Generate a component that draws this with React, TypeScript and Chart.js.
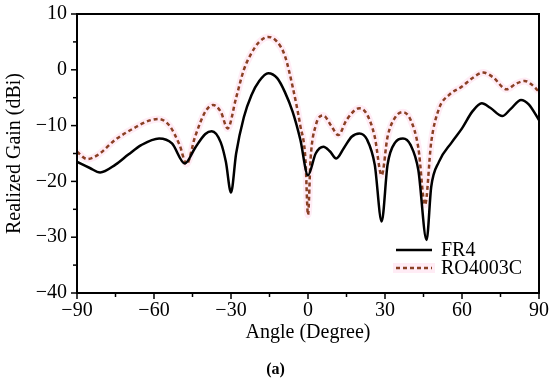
import React, { useEffect, useRef } from "react";
import { Chart, registerables } from "chart.js";

Chart.register(...registerables);

const fr4Angles = [-90, -85, -81, -75, -70, -65, -58, -53, -48, -44, -40, -37.5, -34, -32, -30, -28, -25, -22, -19, -15.5, -12, -9, -6, -3, 0, 3, 6, 8.5, 11, 14, 17, 20, 23, 26, 28.7, 31, 34, 37, 40, 43, 46.2, 48, 51, 56, 60, 64, 67.7, 71, 75.7, 79, 83, 86, 90];
const fr4Gain = [-16.5, -17.6, -18.4, -17, -15.2, -13.5, -12.3, -13.2, -16.8, -14, -11.5, -11, -13, -16.5, -22, -15, -8.5, -4.5, -2, -0.6, -1.5, -4, -7.5, -12.5, -18.9, -15, -13.8, -14.6, -15.9, -14, -12, -11.4, -12.5, -17, -27.2, -17, -13, -12.3, -13.5, -18, -30.5, -21, -16.5, -13, -10.5, -7.5, -6, -6.8, -8.3, -7, -5.4, -6.2, -9];

const roAngles = [-90, -86, -82, -75, -68, -63, -58.3, -54, -50, -47.3, -44, -40, -37, -34, -31.3, -28, -25, -22, -19, -15.5, -12, -9, -6, -3, -1, 0, 1, 3, 6, 9, 11.8, 15, 20, 23, 26, 28.7, 31, 34, 37, 40, 43, 45.6, 48, 51, 55, 60, 64, 68.3, 72, 77.4, 81, 84.5, 87, 90];
const roGain = [-14.7, -16, -15.3, -12.5, -10.5, -9.3, -8.8, -10, -13.5, -16.9, -12, -7.5, -6.3, -7.5, -10.5, -5, 0, 3, 5, 5.9, 5, 2.5, -3, -10, -16, -26, -16, -10, -8.2, -10, -11.7, -9, -6.9, -8, -12, -18.9, -12, -8.5, -7.6, -9, -14, -24.2, -13, -7, -4.5, -3, -1.5, -0.5, -1.3, -3.5, -2.5, -2, -2.6, -3.9];

const xMajorTicks = [-90, -60, -30, 0, 30, 60, 90];
const yMajorTicks = [-40, -30, -20, -10, 0, 10];
const seriesNames = ["FR4", "RO4003C"];
const captionText = "(a)";

const FONT = "'Liberation Serif', 'Times New Roman', serif";
const RO_COLOR = "#8a4024";
const GLOW = "rgba(255, 200, 225, 0.35)";

const fmt = (v: number) => (v < 0 ? "\u2212" + Math.abs(v) : String(v));

export default function App() {
  const ref = useRef<HTMLCanvasElement | null>(null);

  useEffect(() => {
    if (!ref.current) return;
    const fr4 = fr4Angles.map((x, i) => ({ x, y: fr4Gain[i] }));
    const ro = roAngles.map((x, i) => ({ x, y: roGain[i] }));

    const decor = {
      id: "decor",
      afterDatasetsDraw(chart: any) {
        const ctx = chart.ctx;
        const { left, right, top, bottom } = chart.chartArea;
        const xs = chart.scales.x;
        const ys = chart.scales.y;
        ctx.save();
        ctx.strokeStyle = "#000";
        ctx.lineWidth = 2;
        ctx.strokeRect(left, top, right - left, bottom - top);
        ctx.lineWidth = 1.5;
        for (let v = -90; v <= 90; v += 15) {
          const px = xs.getPixelForValue(v);
          const len = xMajorTicks.includes(v) ? 6 : 4;
          ctx.beginPath();
          ctx.moveTo(px, bottom);
          ctx.lineTo(px, bottom + len);
          ctx.stroke();
        }
        for (let v = -40; v <= 10; v += 5) {
          const py = ys.getPixelForValue(v);
          const len = yMajorTicks.includes(v) ? 6 : 4;
          ctx.beginPath();
          ctx.moveTo(left, py);
          ctx.lineTo(left - len, py);
          ctx.stroke();
        }
        const lx0 = right - 143;
        const lx1 = right - 107;
        const y1 = bottom - 43;
        const y2 = bottom - 25;
        ctx.font = `20px ${FONT}`;
        ctx.textBaseline = "middle";
        ctx.textAlign = "left";
        ctx.fillStyle = "#000";
        ctx.strokeStyle = "#000";
        ctx.lineWidth = 2.5;
        ctx.setLineDash([]);
        ctx.beginPath();
        ctx.moveTo(lx0, y1);
        ctx.lineTo(lx1, y1);
        ctx.stroke();
        ctx.fillText(seriesNames[0], right - 98, y1 + 1);
        ctx.fillStyle = GLOW;
        ctx.fillRect(lx0 - 3, y2 - 5, lx1 - lx0 + 6, 10);
        ctx.strokeStyle = RO_COLOR;
        ctx.setLineDash([4, 3]);
        ctx.beginPath();
        ctx.moveTo(lx0, y2);
        ctx.lineTo(lx1, y2);
        ctx.stroke();
        ctx.setLineDash([]);
        ctx.fillStyle = "#000";
        ctx.fillText(seriesNames[1], right - 98, y2 + 1);
        ctx.font = `bold 16px ${FONT}`;
        ctx.textAlign = "center";
        ctx.fillText(captionText, 275.5, 370);
        ctx.restore();
      },
    };

    const chart = new Chart(ref.current, {
      type: "line",
      data: {
        datasets: [
          {
            label: "glow",
            data: ro,
            borderColor: GLOW,
            borderWidth: 7,
            pointRadius: 0,
            cubicInterpolationMode: "monotone",
            order: 3,
          },
          {
            label: seriesNames[1],
            data: ro,
            borderColor: RO_COLOR,
            borderWidth: 2.5,
            borderDash: [4, 3],
            pointRadius: 0,
            cubicInterpolationMode: "monotone",
            order: 2,
          },
          {
            label: seriesNames[0],
            data: fr4,
            borderColor: "#000",
            borderWidth: 2.5,
            pointRadius: 0,
            cubicInterpolationMode: "monotone",
            order: 1,
          },
        ],
      },
      plugins: [decor],
      options: {
        animation: false,
        responsive: false,
        layout: { padding: { left: 0, top: 14, right: 11, bottom: 30 } },
        plugins: { legend: { display: false }, tooltip: { enabled: false } },
        scales: {
          x: {
            type: "linear",
            min: -90,
            max: 90,
            afterFit: (s: any) => {
              s.height = 60;
              s.paddingLeft = 0;
              s.paddingRight = 0;
            },
            ticks: {
              stepSize: 30,
              autoSkip: false,
              maxRotation: 0,
              padding: 6,
              color: "#000",
              font: { family: FONT, size: 20 },
              callback: (v: any) => (xMajorTicks.includes(Number(v)) ? fmt(Number(v)) : ""),
            },
            grid: { display: true, drawOnChartArea: false, drawTicks: false },
            border: { display: false },
            title: {
              display: true,
              text: "Angle (Degree)",
              color: "#000",
              font: { family: FONT, size: 20 },
              padding: { top: 0, bottom: 8 },
            },
          },
          y: {
            min: -40,
            max: 10,
            afterFit: (s: any) => {
              s.width = 77;
              s.paddingTop = 0;
              s.paddingBottom = 0;
            },
            ticks: {
              stepSize: 10,
              autoSkip: false,
              padding: 10,
              color: "#000",
              font: { family: FONT, size: 20 },
              callback: (v: any) => (yMajorTicks.includes(Number(v)) ? fmt(Number(v)) : ""),
            },
            grid: { display: true, drawOnChartArea: false, drawTicks: false },
            border: { display: false },
            title: {
              display: true,
              text: "Realized Gain (dBi)",
              color: "#000",
              font: { family: FONT, size: 20 },
              padding: { top: 3, bottom: 0 },
            },
          },
        },
      },
    } as any);
    return () => chart.destroy();
  }, []);

  return (
    <div style={{ position: "fixed", left: 0, top: 0, width: 550, height: 383, background: "#fff" }}>
      <canvas ref={ref} width={550} height={383} style={{ width: 550, height: 383, display: "block" }} />
    </div>
  );
}
